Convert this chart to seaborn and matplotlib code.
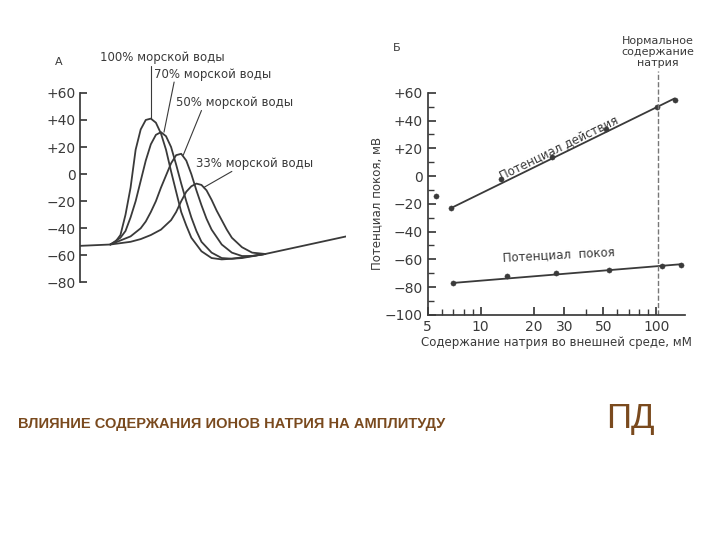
import matplotlib
matplotlib.use("Agg")
import matplotlib.pyplot as plt
import matplotlib.ticker as ticker
import seaborn as sns

# ── data: panel A (time in arbitrary units, potential mV) ─────────────────────
t100 = [0, 3, 3.5, 4, 4.5, 5, 5.5, 6, 6.5, 7, 7.5, 8, 8.5, 9, 9.5, 10, 10.5, 11, 12, 13, 14, 16, 18.3, 22, 26.3]
v100 = [-53, -52, -50, -45, -30, -10, 18, 33, 40, 41, 38, 30, 18, 2, -13, -28, -38, -47, -57, -62, -63, -62, -59, -53, -46]
t70 = [3, 4, 4.5, 5, 5.5, 6, 6.5, 7, 7.5, 8, 8.5, 9, 9.5, 10, 10.5, 11, 11.5, 12, 13, 14, 15, 16.5, 18.3]
v70 = [-52, -47, -42, -32, -20, -5, 10, 22, 29, 31, 28, 20, 7, -7, -20, -32, -42, -50, -58, -62, -62.5, -61, -59]
t50 = [3, 4, 5, 6, 6.5, 7, 7.5, 8, 8.5, 9, 9.5, 10, 10.5, 11, 11.5, 12, 12.5, 13, 14, 15, 16, 17, 18.3]
v50 = [-52, -49, -46, -40, -35, -28, -20, -10, -1, 8, 14, 15, 10, 0, -12, -23, -33, -41, -52, -58, -60.5, -60.5, -59]
t33 = [3, 5, 6, 7, 8, 9, 9.5, 10, 10.5, 11, 11.5, 12, 12.5, 13, 13.5, 14, 14.5, 15, 16, 17, 18.3]
v33 = [-52, -50, -48, -45, -41, -34, -28, -20, -13, -9, -7, -8, -12, -19, -27, -34, -41, -47, -54, -58, -59]
curve_labels = ["100% морской воды", "70% морской воды", "50% морской воды", "33% морской воды"]
a_yticks = [60, 40, 20, 0, -20, -40, -60, -80]
a_yticklabels = ["+60", "+40", "+20", "0", "−20", "−40", "−60", "−80"]

# ── data: panel B (Na mM, potential mV) ───────────────────────────────────────
ap_na = [6.8, 13.1, 25.6, 52, 101, 127]
ap_mv = [-23, -2, 14, 34, 50, 55]
ap_fit_na = [6.8, 127]
ap_fit_mv = [-23, 56]
ap_lone_na = [5.6]
ap_lone_mv = [-14]
rp_na = [7.0, 14.1, 27, 54, 108, 139]
rp_mv = [-77, -72, -70, -68, -65, -64]
rp_fit_na = [7.0, 139]
rp_fit_mv = [-77, -63.5]
normal_na = 102
b_xticks = [5, 10, 20, 30, 50, 100]
b_yticks = [60, 40, 20, 0, -20, -40, -60, -80, -100]
b_yticklabels = ["+60", "+40", "+20", "0", "−20", "−40", "−60", "−80", "−100"]

# ── style ─────────────────────────────────────────────────────────────────────
sns.set_theme(style="white")
plt.rcParams["font.family"] = ["DejaVu Sans"]
INK = "#3a3a3a"
BROWN = "#7a4a1e"

fig = plt.figure(figsize=(7.2, 5.4), dpi=100)

# ── panel A ───────────────────────────────────────────────────────────────────
ax = fig.add_axes([0.111, 0.472, 0.37, 0.361])
for tt, vv in [(t100, v100), (t70, v70), (t50, v50), (t33, v33)]:
    sns.lineplot(x=tt, y=vv, ax=ax, color=INK, linewidth=1.3, sort=False, estimator=None)
ax.set_xlim(0, 26.3)
ax.set_ylim(-82, 62)
ax.set_yticks(a_yticks)
ax.set_yticklabels(a_yticklabels, color=INK, fontsize=10)
ax.set_xticks([])
for s in ["top", "right", "bottom"]:
    ax.spines[s].set_visible(False)
ax.spines["left"].set_color(INK)
ax.spines["left"].set_bounds(-80, 60)
ax.tick_params(axis="y", direction="in", length=5, color=INK, left=True, pad=3)
leaders = [((7.0, 41), (7.0, 80)), ((8.3, 31), (9.3, 68)), ((10.2, 14), (12.0, 47)), ((12.2, -10), (15.0, 2))]
label_pos = [(2.0, 81), (7.3, 69), (9.5, 48), (11.5, 3)]
for lab, (p, q), (lx, ly) in zip(curve_labels, leaders, label_pos):
    ax.plot([p[0], q[0]], [p[1], q[1]], color=INK, linewidth=0.8, clip_on=False)
    ax.text(lx, ly, lab, fontsize=8.5, color=INK, va="bottom", clip_on=False)
fig.text(0.076, 0.88, "А", fontsize=8, color=INK)

# ── panel B ───────────────────────────────────────────────────────────────────
bx = fig.add_axes([0.594, 0.417, 0.357, 0.411])
bx.set_xscale("log")
sns.lineplot(x=ap_fit_na, y=ap_fit_mv, ax=bx, color=INK, linewidth=1.3)
sns.lineplot(x=rp_fit_na, y=rp_fit_mv, ax=bx, color=INK, linewidth=1.3)
sns.scatterplot(x=ap_na + ap_lone_na, y=ap_mv + ap_lone_mv, ax=bx, color=INK, s=14, edgecolor=INK)
sns.scatterplot(x=rp_na, y=rp_mv, ax=bx, color=INK, s=14, edgecolor=INK)
bx.plot([normal_na, normal_na], [-100, 76], color="#777777", linestyle="--", linewidth=1, clip_on=False)
bx.set_xlim(5, 145)
bx.set_ylim(-100, 60)
bx.set_xticks(b_xticks)
bx.xaxis.set_major_formatter(ticker.FixedFormatter([str(v) for v in b_xticks]))
bx.xaxis.set_minor_locator(ticker.LogLocator(base=10, subs=range(2, 10)))
bx.xaxis.set_minor_formatter(ticker.NullFormatter())
bx.set_yticks(b_yticks)
bx.set_yticklabels(b_yticklabels, color=INK, fontsize=10)
bx.yaxis.set_minor_locator(ticker.MultipleLocator(10))
bx.tick_params(axis="both", which="both", direction="in", color=INK, labelcolor=INK)
bx.tick_params(axis="both", which="major", length=6, labelsize=10)
bx.tick_params(axis="both", which="minor", length=4)
bx.tick_params(axis="x", which="both", bottom=True)
bx.tick_params(axis="y", which="both", left=True)
for s in ["top", "right"]:
    bx.spines[s].set_visible(False)
for s in ["left", "bottom"]:
    bx.spines[s].set_color(INK)
bx.set_xlabel("Содержание натрия во внешней среде, мМ", fontsize=8.5, color=INK, labelpad=2)
bx.set_ylabel("Потенциал покоя, мВ", fontsize=8.5, color=INK, labelpad=1)
bx.text(28, 20, "Потенциал действия", fontsize=8.5, color=INK, rotation=26,
        ha="center", va="center")
bx.text(28, -57, "Потенциал  покоя", fontsize=8.5, color=INK, rotation=3,
        ha="center", va="center")
bx.text(normal_na, 78, "Нормальное\nсодержание\nнатрия", fontsize=8, color=INK,
        ha="center", va="bottom", linespacing=1.1)
fig.text(0.546, 0.905, "Б", fontsize=8, color=INK)

# ── caption ───────────────────────────────────────────────────────────────────
fig.text(0.025, 0.207, "ВЛИЯНИЕ СОДЕРЖАНИЯ ИОНОВ НАТРИЯ НА АМПЛИТУДУ", fontsize=10.5,
         color=BROWN, fontweight="bold", family=["Liberation Sans", "DejaVu Sans"])
fig.text(0.842, 0.207, "ПД", fontsize=25, color=BROWN,
         family=["Liberation Sans", "DejaVu Sans"])

fig.savefig("out.png", dpi=100, facecolor="white")
